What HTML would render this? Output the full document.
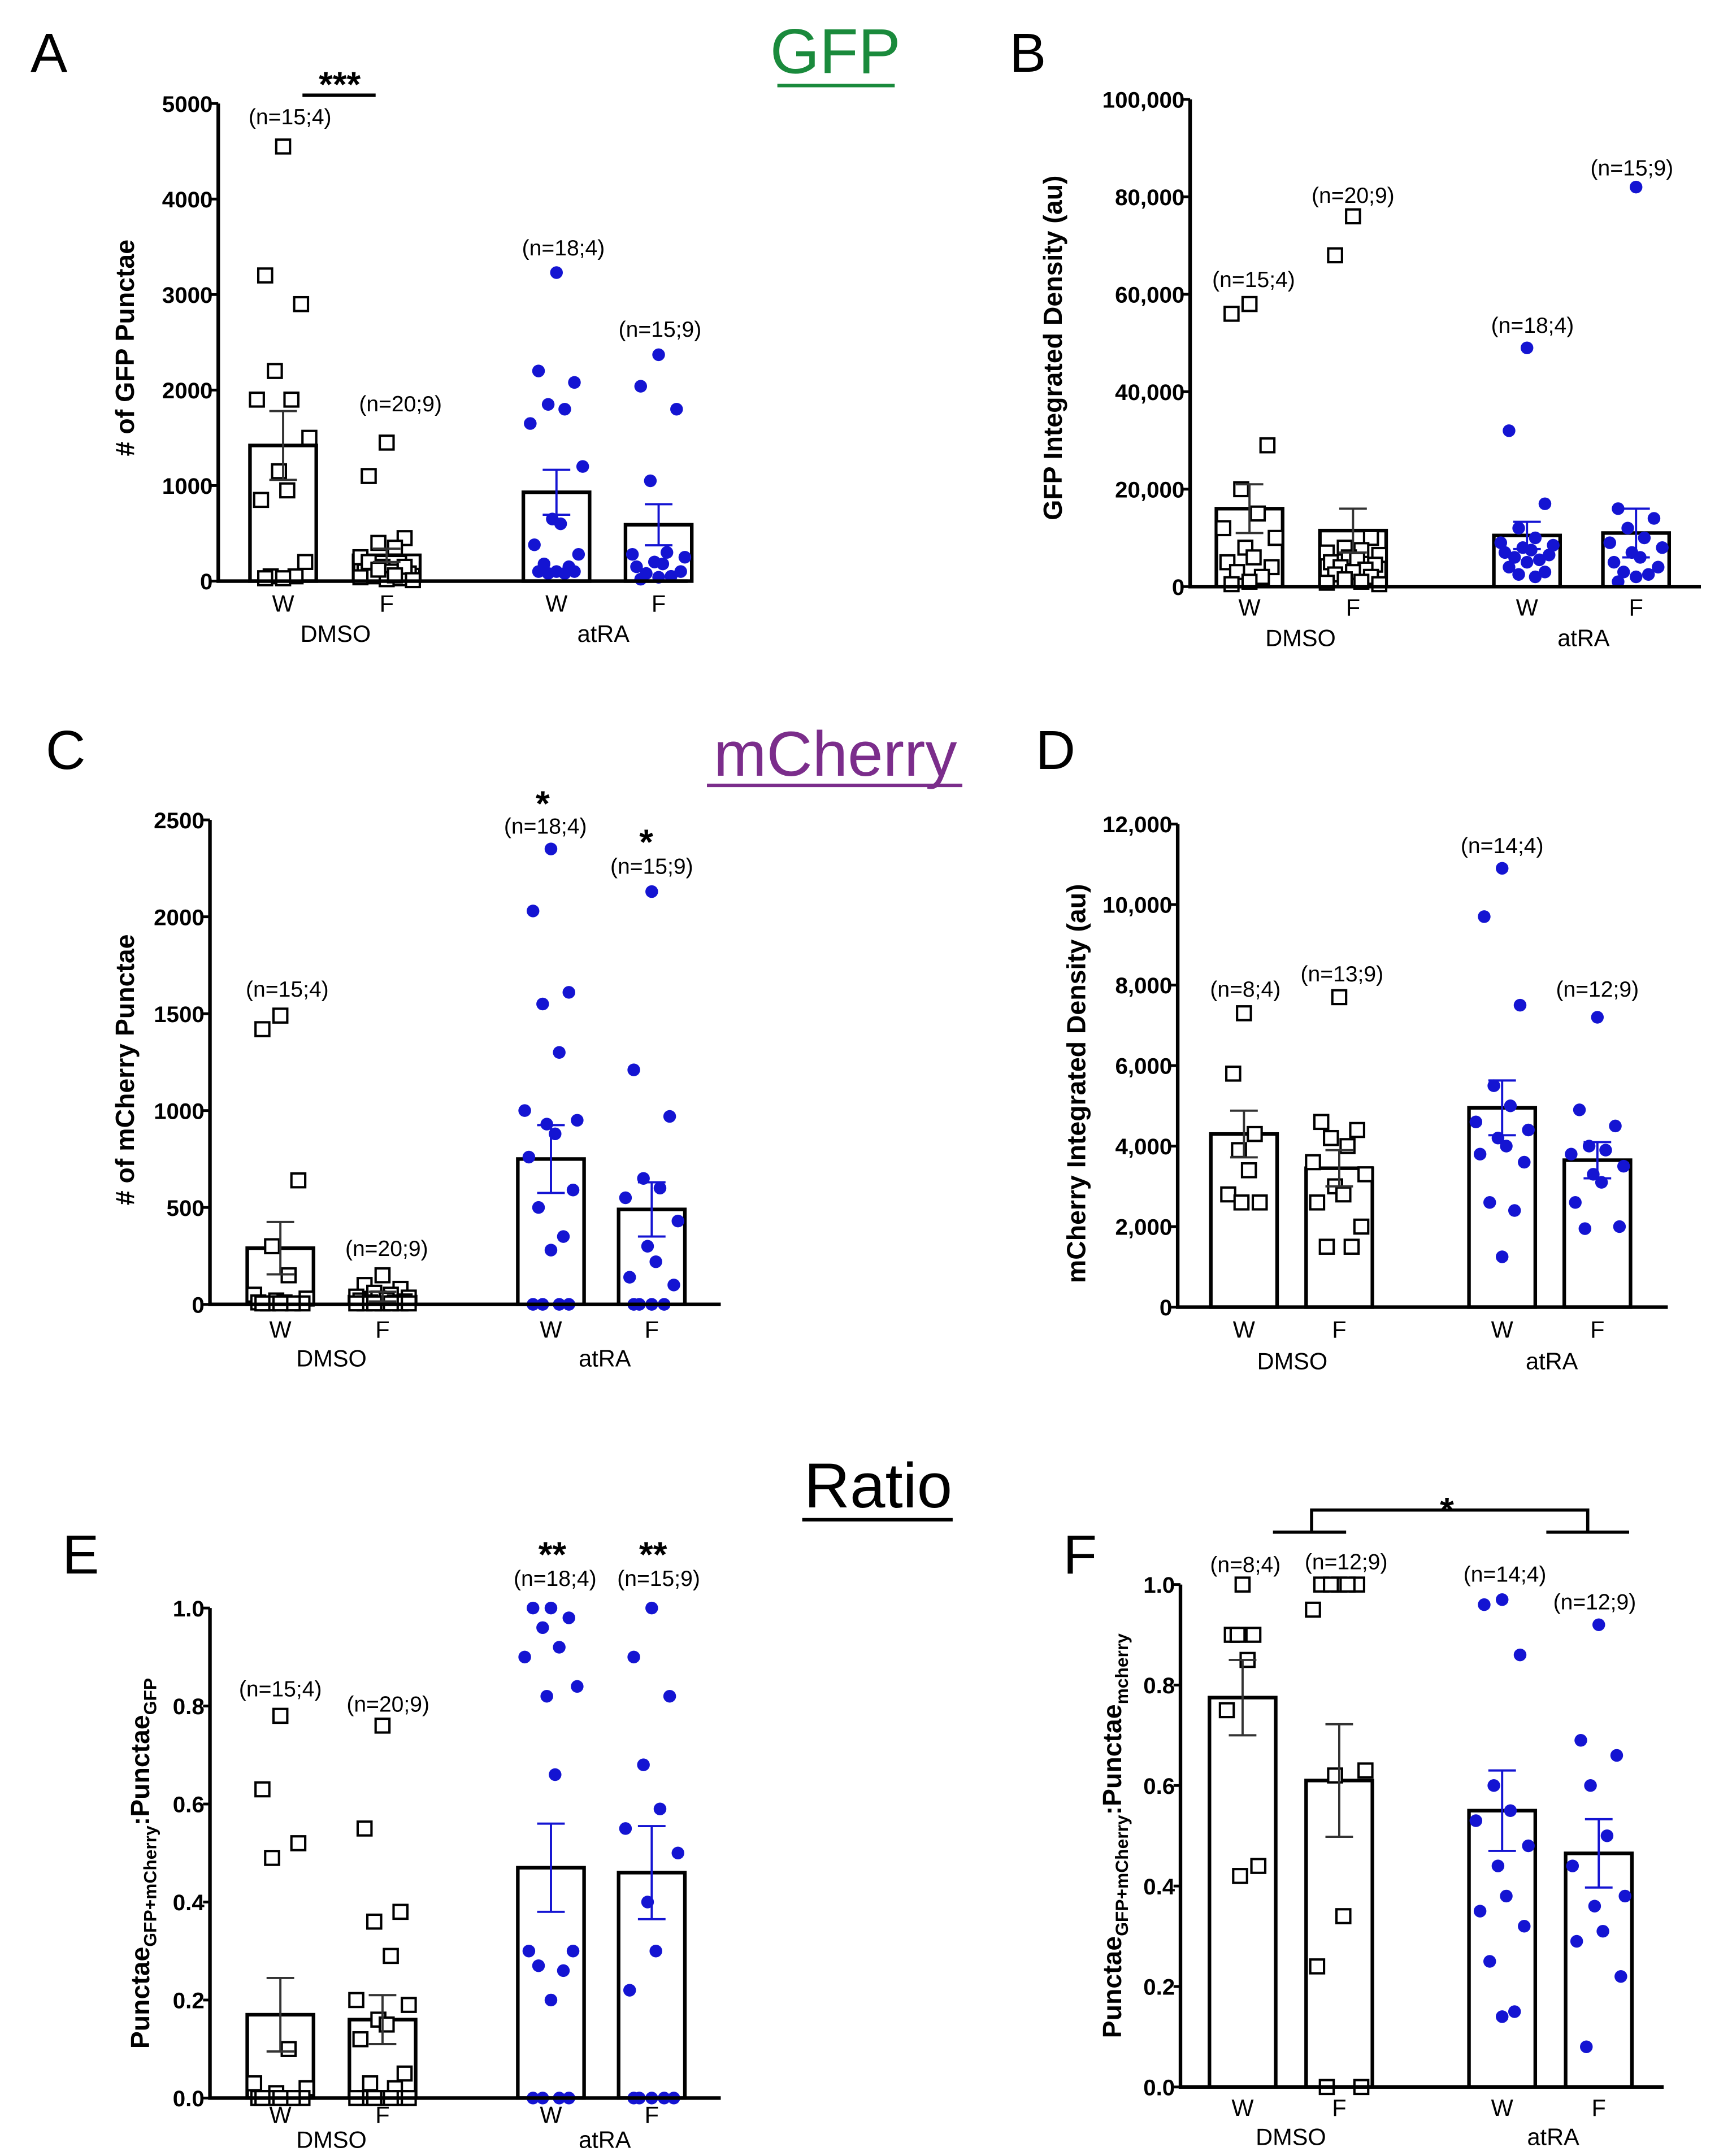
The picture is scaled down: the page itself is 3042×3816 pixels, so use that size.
<!DOCTYPE html>
<html><head><meta charset="utf-8"><style>
html,body{margin:0;padding:0;background:#fff}
svg{display:block}
text{font-family:"Liberation Sans",sans-serif}
</style></head><body>
<svg id="fig" xmlns="http://www.w3.org/2000/svg" width="3042" height="3816" viewBox="0 0 1245 1562"></svg>
<script>
// ---------- DATA ----------
const groupCats = ["DMSO","atRA"];
const barCats = ["W","F","W","F"];
// Panel A
const A_means = [1420, 270, 930, 590];
const A_sems = [360, 70, 235, 215];
const A_pts0 = [4550,3200,2900,2200,1900,1900,1500,1150,950,850,200,50,50,30,30];
const A_pts1 = [1450,1100,450,400,350,250,200,150,100,100,80,50,30,20,200,150,120,60,40,10];
const A_pts2 = [3230,2200,2080,1850,1800,1650,1200,650,600,380,280,180,150,100,100,100,80,80];
const A_pts3 = [2370,2040,1800,1050,300,280,250,200,180,150,100,80,50,40,20];
const A_ns = ["(n=15;4)","(n=20;9)","(n=18;4)","(n=15;9)"];
const A_ticks = [0,1000,2000,3000,4000,5000];
// Panel B
const B_means = [16000, 11500, 10500, 11000];
const B_sems = [5000, 4500, 2800, 5000];
const B_pts0 = [58000,56000,29000,20000,15000,12000,10000,8000,6000,5000,4000,3000,2000,1000,500];
const B_pts1 = [76000,68000,10000,8000,7500,7000,6500,6000,5500,5000,4500,4000,3500,3000,2500,2000,1500,1000,800,500];
const B_pts2 = [49000,32000,17000,12000,10000,9000,8500,8000,7500,7000,6500,6000,5500,5000,4000,3000,2500,2000];
const B_pts3 = [82000,16000,14000,12000,10000,9000,8000,7000,6000,5000,4000,3000,2500,2000,1000];
const B_ns = ["(n=15;4)","(n=20;9)","(n=18;4)","(n=15;9)"];
const B_ticks = [0,20000,40000,60000,80000,100000];
// Panel C
const C_means = [290, 40, 750, 490];
const C_sems = [135, 25, 175, 140];
const C_pts0 = [1490,1420,640,300,150,50,30,20,10,10,5,5,5,5,5];
const C_pts1 = [150,100,80,60,50,40,35,30,25,20,15,10,10,5,5,5,5,5,5,5];
const C_pts2 = [2350,2030,1610,1550,1300,1000,950,930,880,760,590,500,350,280,0,0,0,0];
const C_pts3 = [2130,1210,970,650,600,550,430,300,220,140,100,0,0,0,0];
const C_ns = ["(n=15;4)","(n=20;9)","(n=18;4)","(n=15;9)"];
const C_ticks = [0,500,1000,1500,2000,2500];
// Panel D
const D_means = [4300, 3450, 4950, 3650];
const D_sems = [580, 450, 680, 450];
const D_pts0 = [7300,5800,4300,3900,3400,2800,2600,2600];
const D_pts1 = [7700,4600,4400,4200,4000,3600,3300,3000,2800,2600,2000,1500,1500];
const D_pts2 = [10900,9700,7500,5500,5000,4600,4400,4200,4000,3800,3600,2600,2400,1250];
const D_pts3 = [7200,4900,4500,4000,3900,3800,3500,3300,3100,2600,2000,1950];
const D_ns = ["(n=8;4)","(n=13;9)","(n=14;4)","(n=12;9)"];
const D_ticks = [0,2000,4000,6000,8000,10000,12000];
// Panel E
const E_means = [0.17, 0.16, 0.47, 0.46];
const E_sems = [0.075, 0.05, 0.09, 0.095];
const E_pts0 = [0.78,0.63,0.52,0.49,0.1,0.03,0.02,0.01,0,0,0,0,0,0,0];
const E_pts1 = [0.76,0.55,0.38,0.36,0.29,0.2,0.19,0.16,0.15,0.12,0.05,0.03,0.02,0,0,0,0,0,0,0];
const E_pts2 = [1,1,0.98,0.96,0.92,0.9,0.84,0.82,0.66,0.3,0.3,0.27,0.26,0.2,0,0,0,0];
const E_pts3 = [1,0.9,0.82,0.68,0.59,0.55,0.5,0.4,0.3,0.22,0,0,0,0,0];
const E_ns = ["(n=15;4)","(n=20;9)","(n=18;4)","(n=15;9)"];
const E_ticks = [0,0.2,0.4,0.6,0.8,1.0];
// Panel F
const F_means = [0.775, 0.61, 0.55, 0.465];
const F_sems = [0.075, 0.112, 0.08, 0.068];
const F_pts0 = [1,0.9,0.9,0.9,0.85,0.75,0.44,0.42];
const F_pts1 = [1,1,1,1,1,0.95,0.63,0.62,0.34,0.24,0,0];
const F_pts2 = [0.97,0.96,0.86,0.6,0.55,0.53,0.48,0.44,0.38,0.35,0.32,0.25,0.15,0.14];
const F_pts3 = [0.92,0.69,0.66,0.6,0.5,0.44,0.38,0.36,0.31,0.29,0.22,0.08];
const F_ns = ["(n=8;4)","(n=12;9)","(n=14;4)","(n=12;9)"];
const F_ticks = [0,0.2,0.4,0.6,0.8,1.0];

// ---------- DRAW ----------
const NS = "http://www.w3.org/2000/svg";
const svg = document.getElementById("fig");
function mk(tag, attrs, parent, txt){
  const e = document.createElementNS(NS, tag);
  for (const k in attrs) e.setAttribute(k, attrs[k]);
  if (txt !== undefined) e.textContent = txt;
  (parent || svg).appendChild(e);
  return e;
}
const BLUE = "#1414d2";
const jit = [0,-13,13,-6,6,-19,19,-3,3,-16,16,-9,9];

function panel(id, cfg){
  const g = mk("g", {}, svg);
  
  
  const ymax = cfg.ticks[cfg.ticks.length-1];
  const Y = v => cfg.y0 - (v / ymax) * (cfg.y0 - cfg.y1);
  cfg.means.forEach((m, i) => {
    const cx = cfg.xs[i], bw = 48;
    const r = mk("rect", {x: cx-bw/2, y: Y(m), width: bw, height: cfg.y0 - Y(m), fill: "#fff", stroke: "#000", "stroke-width": 2.6}, g);
    
    
  });
  cfg.pts.forEach((arr, i) => {
    const blue = i >= 2;
    arr.forEach((v, k) => {
      const cx = cfg.xs[i] + jit[k % jit.length] * (arr.length > 10 ? 1 : 0.6);
      const cy = Y(v);
      let p;
      if (blue) p = mk("circle", {cx, cy, r: 4.6, fill: BLUE}, g);
      else p = mk("rect", {x: cx-5, y: cy-5, width: 10, height: 10, fill: "#fff", stroke: "#000", "stroke-width": 1.7}, g);
      
      
    });
  });
  cfg.means.forEach((m, i) => {
    const cx = cfg.xs[i], s = cfg.sems[i], col = i >= 2 ? BLUE : "#333";
    const e = mk("path", {d: `M${cx},${Y(m+s)}V${Y(m-s)}M${cx-10},${Y(m+s)}H${cx+10}M${cx-10},${Y(m-s)}H${cx+10}`, stroke: col, "stroke-width": 1.6, fill: "none"}, g);
    
    
  });
  const ax = mk("path", {d: `M${cfg.x0},${cfg.y1}V${cfg.y0}H${cfg.x1}`, stroke: "#000", "stroke-width": 2.6, fill: "none"}, g);
  
  
  cfg.ticks.forEach(t => {
    const lab = cfg.fmt(t);
    mk("line", {x1: cfg.x0-5, x2: cfg.x0, y1: Y(t), y2: Y(t), stroke: "#000", "stroke-width": 2}, g);
    const tl = mk("text", {x: cfg.x0-4, y: Y(t)+6, "text-anchor": "end", "font-size": 16.5, "font-weight": "bold"}, g, lab);
    
    
  });
  barCats.forEach((c, i) => {
    const t = mk("text", {x: cfg.xs[i], y: cfg.wy, "text-anchor": "middle", "font-size": 17}, g, c);
    
    
  });
  groupCats.forEach((c, i) => {
    const t = mk("text", {x: cfg.gx[i], y: cfg.gy, "text-anchor": "middle", "font-size": 17}, g, c);
    
    
  });
  cfg.ns.forEach((n, i) => {
    const t = mk("text", {x: cfg.nx[i], y: cfg.ny[i], "text-anchor": "middle", "font-size": 16}, g, n);
    
    
  });
  const yt = mk("text", {transform: `translate(${cfg.tx},${cfg.ty}) rotate(-90)`, "text-anchor": "middle", "font-size": 19, "font-weight": "bold"}, g);
  
  
  cfg.title.forEach(seg => {
    mk("tspan", seg[1] ? {"font-size": 13, dy: seg[1]} : {dy: seg[2] || 0}, yt, seg[0]);
  });
  const L = mk("text", {x: cfg.lx, y: cfg.ly, "font-size": 40}, g, id);
  
  
  return Y;
}
const f0 = t => String(t);
const fc = t => t.toLocaleString("en-US");
const f1 = t => t.toFixed(1);

panel("A", {x0:158,x1:498,y0:421,y1:75,xs:[205,280,403,477],means:A_means,sems:A_sems,pts:[A_pts0,A_pts1,A_pts2,A_pts3],ticks:A_ticks,fmt:f0,
  wy:443,gx:[243,437],gy:465,ns:A_ns,nx:[210,290,408,478],ny:[90,298,185,244],tx:97,ty:252,title:[["# of GFP Punctae"]],lx:22,ly:52});
panel("B", {x0:862,x1:1232,y0:425,y1:72,xs:[905,980,1106,1185],means:B_means,sems:B_sems,pts:[B_pts0,B_pts1,B_pts2,B_pts3],ticks:B_ticks,fmt:fc,
  wy:446,gx:[942,1147],gy:468,ns:B_ns,nx:[908,980,1110,1182],ny:[208,147,241,127],tx:769,ty:252,title:[["GFP Integrated Density (au)"]],lx:731,ly:52});
panel("C", {x0:152,x1:522,y0:945,y1:594,xs:[203,277,399,472],means:C_means,sems:C_sems,pts:[C_pts0,C_pts1,C_pts2,C_pts3],ticks:C_ticks,fmt:f0,
  wy:969,gx:[240,438],gy:990,ns:C_ns,nx:[208,280,395,472],ny:[722,910,604,633],tx:97,ty:775,title:[["# of mCherry Punctae"]],lx:33,ly:557});
panel("D", {x0:853,x1:1208,y0:947,y1:597,xs:[901,970,1088,1157],means:D_means,sems:D_sems,pts:[D_pts0,D_pts1,D_pts2,D_pts3],ticks:D_ticks,fmt:fc,
  wy:969,gx:[936,1124],gy:992,ns:D_ns,nx:[902,972,1088,1157],ny:[722,711,618,722],tx:786,ty:785,title:[["mCherry Integrated Density (au)"]],lx:750,ly:557});
panel("E", {x0:152,x1:522,y0:1520,y1:1165,xs:[203,277,399,472],means:E_means,sems:E_sems,pts:[E_pts0,E_pts1,E_pts2,E_pts3],ticks:E_ticks,fmt:f1,
  wy:1538,gx:[240,438],gy:1556,ns:E_ns,nx:[203,281,402,477],ny:[1229,1240,1149,1149],tx:108,ty:1350,
  title:[["Punctae"],["GFP+mCherry",5],[":Punctae",null,-5],["GFP",5]],lx:45,ly:1140});
panel("F", {x0:855,x1:1205,y0:1512,y1:1148,xs:[900,970,1088,1158],means:F_means,sems:F_sems,pts:[F_pts0,F_pts1,F_pts2,F_pts3],ticks:F_ticks,fmt:f1,
  wy:1533,gx:[935,1125],gy:1554,ns:F_ns,nx:[902,975,1090,1155],ny:[1139,1137,1146,1166],tx:812,ty:1330,
  title:[["Punctae"],["GFP+mCherry",5],[":Punctae",null,-5],["mcherry",5]],lx:770,ly:1140});

function header(txt, x, y, col, ux0, ux1, uy, name){
  const t = mk("text", {x, y, "text-anchor": "middle", "font-size": 46, fill: col}, svg, txt);
  
  
  mk("line", {x1: ux0, x2: ux1, y1: uy, y2: uy, stroke: col, "stroke-width": 2.5});
}
header("GFP", 605, 53, "#1a8a3c", 563, 648, 62, "gfp-header");
header("mCherry", 605, 562, "#7b2d8b", 512, 697, 569, "mcherry-header");
header("Ratio", 636, 1092, "#000", 581, 690, 1101, "ratio-header");

function star(txt, x, y, name){
  const t = mk("text", {x, y, "text-anchor": "middle", "font-size": 26, "font-weight": "bold"}, svg, txt);
  
  
}
star("***", 246, 70, "significance-a");
mk("line", {x1: 219, x2: 272, y1: 69, y2: 69, stroke: "#000", "stroke-width": 2.5});
star("*", 393, 591, "significance-c-w");
star("*", 468, 619, "significance-c-f");
star("**", 400, 1135, "significance-e-w");
star("**", 473, 1135, "significance-e-f");
star("*", 1048, 1103, "significance-f");
const br = mk("path", {d: "M922,1110H975M950,1110V1094H1150V1110M1120,1110H1180", stroke: "#000", "stroke-width": 2.3, fill: "none"});


</script>
</body></html>
